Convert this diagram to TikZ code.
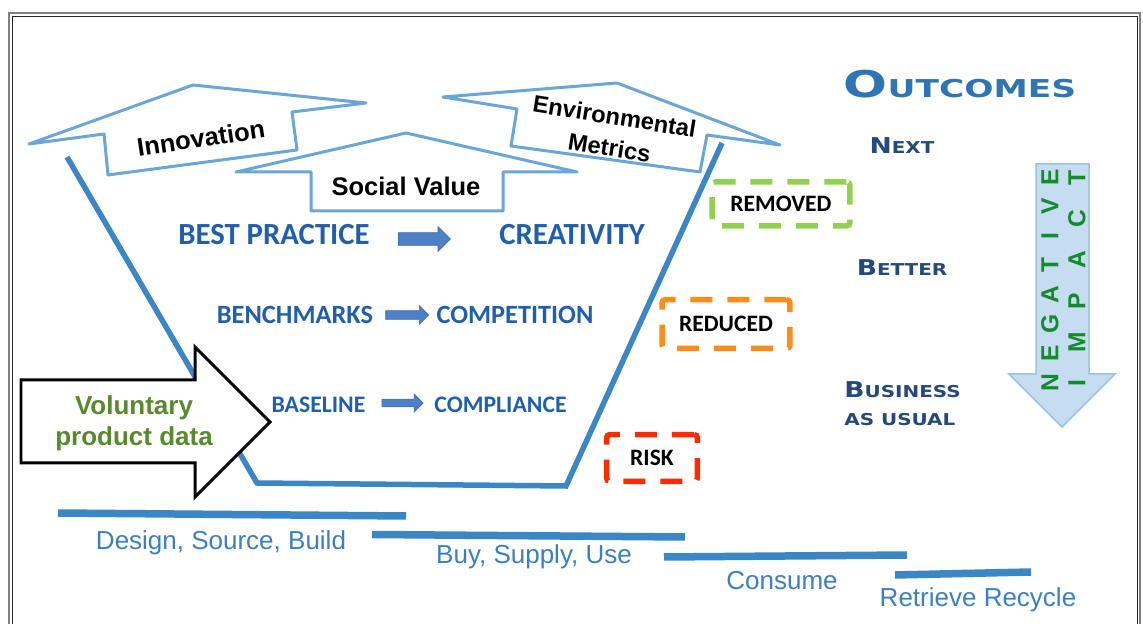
\documentclass[tikz,border=0pt]{standalone}
\usepackage{fontspec}
\setmainfont{Liberation Sans}
\newfontfamily\carlito{Carlito}
\newfontfamily\dejavu{DejaVu Sans}
\usetikzlibrary{positioning,shapes.arrows}

\definecolor{outlineblue}{HTML}{6AA6D8}
\definecolor{funnelblue}{HTML}{3B86C4}
\definecolor{midblue}{HTML}{1F5FAE}
\definecolor{arrowfill}{HTML}{4D80C6}
\definecolor{volgreen}{HTML}{568A2C}
\definecolor{outblue}{HTML}{2E75B6}
\definecolor{navy}{HTML}{24497A}
\definecolor{impfill}{HTML}{C6DCF0}
\definecolor{impedge}{HTML}{9CC2E5}
\definecolor{impgreen}{HTML}{138A2C}
\definecolor{stageblue}{HTML}{3B7FC2}
\definecolor{remgreen}{HTML}{92D050}
\definecolor{redorange}{HTML}{FF8C1A}
\definecolor{riskred}{HTML}{FF2A00}

\newcommand{\scword}[2]{\scalebox{1.22}[1]{{\fontsize{12.4}{15.9}\selectfont #1}{\fontsize{9.3}{11}\selectfont #2}}}

\tikzset{
    upbox/.style={draw=outlineblue, line width=0.06cm, line join=round, fill=white},
    tag/.style={font=\bfseries\fontsize{14.5}{17}\selectfont, inner sep=0pt},
    practice/.style={text=midblue, inner sep=0pt, font=\carlito\bfseries\fontsize{#1}{#1}\selectfont},
    blkarrow/.style={single arrow, fill=arrowfill, draw=arrowfill!85!black, line width=0.4pt, inner xsep=0pt, anchor=west},
    dbox/.style={line width=0.11cm, rounded corners=2pt, dash pattern=on 0.44cm off 0.3cm, font=\carlito\bfseries\fontsize{13.4}{16}\selectfont, inner sep=0pt},
    lvl/.style={text=navy, font=\dejavu\bfseries\fontsize{12.4}{15.9}\selectfont, inner sep=0pt, align=left},
    imp/.style={text=impgreen, font=\bfseries\fontsize{14}{16}\selectfont, rotate=90, inner sep=0pt},
    stage/.style={text=stageblue, font=\fontsize{14.8}{17}\selectfont, inner sep=0pt},
    stagebar/.style={funnelblue, line width=0.15cm}
}

\begin{document}
\begin{tikzpicture}[x=0.02cm, y=-0.02cm]
    \useasboundingbox (0,0) rectangle (1143,624);
    % frame
    \draw[gray, line width=0.04cm] (9,624) -- (9,13) -- (1140,13) -- (1140,624);
    \draw[black!85, line width=0.02cm] (12.5,624) -- (12.5,16.5) -- (1137,16.5) -- (1137,624);

    % pushed-up outline arrows
    \draw[upbox] (29,144) -- (193,85) -- (366,103) -- (292,112) -- (297,150) -- (108,175) -- (104,134) -- cycle;
    \node[tag, rotate=8.6] (inno) at (201,138) {Innovation};
    \draw[upbox] (443,97) -- (617,83) -- (780,145) -- (707,135) -- (700,172) -- (511,146) -- (517,109) -- cycle;
    \node[inner sep=0pt, rotate=-9, align=center, font=\bfseries\fontsize{13.5}{18}\selectfont] (env) at (612,132) {Environmental\\Metrics};
    \draw[upbox] (236,172) -- (406,133) -- (577,172) -- (503,172) -- (503,211) -- (311,211) -- (311,172) -- cycle;
    \node[tag] (soc) at (406,186) {Social Value};

    % funnel
    \draw[funnelblue, line width=0.11cm] (67,157) -- (257,483) -- (566,486) -- (722,143);

    % input arrow
    \draw[black, line width=0.06cm, fill=white] (21,380) -- (195,380) -- (195,347) -- (270,422) -- (195,497) -- (195,463) -- (21,463) -- cycle;
    \node[text=volgreen, font=\bfseries\fontsize{14.8}{17.6}\selectfont, align=center, inner sep=0pt] (vol) at (134,423) {Voluntary\\product data};

    % levels inside the funnel
    \node[practice=17.5] (bp) at (274,235) {BEST PRACTICE};
    \node[practice=17.5] (cr) at (572,235) {CREATIVITY};
    \node[blkarrow, right=0.56cm of bp, yshift=-0.08cm, minimum height=1.04cm, inner ysep=0.12cm, single arrow head extend=0.12cm] (a1) {};

    \node[practice=15] (bm) at (295,315) {BENCHMARKS};
    \node[practice=15] (cp) at (515,315) {COMPETITION};
    \node[blkarrow, right=0.24cm of bm, minimum height=0.86cm, inner ysep=0.08cm, single arrow head extend=0.1cm] (a2) {};

    \node[practice=13.5] (bl) at (318.5,405) {BASELINE};
    \node[practice=13.5] (cm) at (500.5,405) {COMPLIANCE};
    \node[blkarrow, right=0.32cm of bl, yshift=0.04cm, minimum height=0.82cm, inner ysep=0.07cm, single arrow head extend=0.1cm] (a3) {};

    % dashed result boxes
    \node[dbox, draw=remgreen, minimum width=2.76cm, minimum height=0.88cm] (rem) at (781,204) {REMOVED};
    \node[dbox, draw=redorange, minimum width=2.56cm, minimum height=0.98cm] (red) at (726,324) {REDUCED};
    \node[dbox, draw=riskred, minimum width=1.82cm, minimum height=0.94cm] (risk) at (652,458) {RISK};

    % outcomes column
    \node[text=outblue, font=\dejavu\bfseries, inner sep=0pt] (outc) at (960,84)
        {\scalebox{1.4}[1]{{\fontsize{21}{24}\selectfont O}{\fontsize{14}{16}\selectfont UTCOMES}}};
    \node[lvl] (nxt) at (902,146) {\scword{N}{EXT}};
    \node[lvl] (bet) at (902,268) {\scword{B}{ETTER}};
    \node[lvl, anchor=west] (bau) at (844,403.5) {\scword{B}{USINESS}\\\scword{}{AS USUAL}};

    % negative impact arrow
    \draw[fill=impfill, draw=impedge, line width=0.03cm] (1036,164) -- (1089,164) -- (1089,374) -- (1115,374) -- (1062,427) -- (1009,374) -- (1036,374) -- cycle;
    \foreach \ch [count=\i from 0] in {N,E,G,A,T,I,V,E}
        \node[imp] (neg\i) at (1050,383-29.4*\i) {\ch};
    \foreach \ch [count=\i from 0] in {I,M,P,A,C,T}
        \node[imp] (imp\i) at (1077,383-41*\i) {\ch};

    % life cycle stages
    \draw[stagebar] (58,513) -- (406,516);
    \draw[stagebar] (372,534.5) -- (685,537);
    \draw[stagebar] (664,557) -- (907,555);
    \draw[stagebar] (895,575) -- (1031,572);
    \node[stage] (dsb) at (221,543) {Design, Source, Build};
    \node[stage] (bsu) at (534,557) {Buy, Supply, Use};
    \node[stage] (con) at (782,581) {Consume};
    \node[stage] (rr) at (978,600) {Retrieve Recycle};
\end{tikzpicture}
\end{document}
